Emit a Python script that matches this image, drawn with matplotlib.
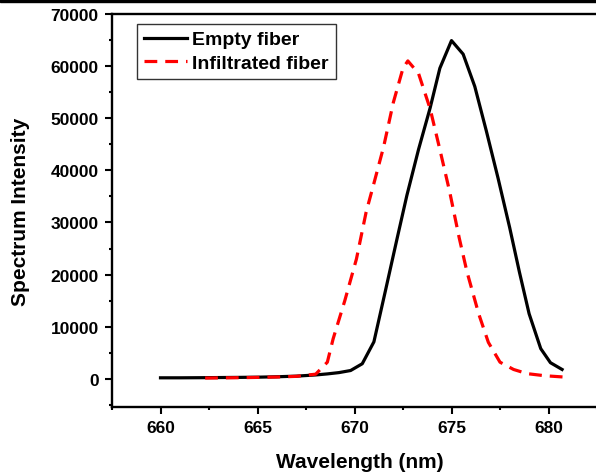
import matplotlib
matplotlib.use("Agg")
import matplotlib.pyplot as plt
from matplotlib.ticker import MultipleLocator
from matplotlib.patches import Rectangle

plt.rcParams['font.family'] = ['Liberation Sans', 'DejaVu Sans']
plt.rcParams['font.weight'] = 'bold'

# Empty fiber
empty_x = [660.0, 661.0, 662.0, 663.0, 664.0, 665.0, 666.0, 667.0, 668.0, 668.6,
           669.2, 669.8, 670.4, 671.0, 671.6, 672.2, 672.7, 673.3, 673.9, 674.4,
           675.0, 675.6, 676.2, 676.8, 677.4, 678.0, 678.5, 679.0, 679.6, 680.1, 680.7]
empty_y = [200, 200, 220, 250, 280, 320, 400, 520, 750, 950,
           1200, 1600, 2900, 7100, 17000, 27000, 35200, 44000, 52000, 59600,
           64900, 62300, 56100, 47500, 38500, 29000, 20500, 12500, 5800, 3100, 1800]

# Infiltrated fiber
infil_x = [662.3, 663.0, 664.0, 665.0, 666.0, 667.0, 668.0, 668.6, 668.9, 669.5,
           670.1, 670.6, 671.0, 671.5, 672.0, 672.5, 672.75, 673.3, 673.9, 674.4,
           674.9, 675.4, 675.8, 676.4, 676.9, 677.5, 678.2, 678.9, 679.8, 680.8]
infil_y = [150, 180, 220, 280, 350, 480, 900, 3200, 7700, 15000,
           23000, 32000, 37500, 44500, 53000, 59600, 61000, 58600, 51800, 44000,
           36000, 27000, 20500, 12500, 7000, 3200, 1800, 1000, 600, 350]

x_ticks = [660, 665, 670, 675, 680]
y_ticks = [0, 10000, 20000, 30000, 40000, 50000, 60000, 70000]

W, H = 596, 477
fig = plt.figure(figsize=(W / 100, H / 100), dpi=100)
left_px, top_px, bottom_px = 112, 15, 408
x_min, x_max = 657.5, 683.0
px_per_nm = 19.4
width_px = (x_max - x_min) * px_per_nm
ax = fig.add_axes([left_px / W, 1 - bottom_px / H, width_px / W, (bottom_px - top_px) / H])

ax.plot(empty_x, empty_y, color='black', lw=2.3, label='Empty fiber')
ax.plot(infil_x, infil_y, color='red', lw=2.3, linestyle=(0, (4, 2.5)), label='Infiltrated fiber')

ax.set_xlim(x_min, x_max)
ax.set_ylim(-5400, 70000)
ax.set_xticks(x_ticks)
ax.set_yticks(y_ticks)
ax.xaxis.set_minor_locator(MultipleLocator(2.5))
ax.yaxis.set_minor_locator(MultipleLocator(5000))
ax.tick_params(which='major', direction='out', length=5, width=1.5, labelsize=12.5, pad=4.5)
ax.tick_params(which='minor', direction='out', length=2.5, width=1.5)
for lab in ax.get_xticklabels() + ax.get_yticklabels():
    lab.set_fontweight('bold')
for s in ax.spines.values():
    s.set_linewidth(1.7)

ax.set_xlabel('Wavelength (nm)', fontsize=15, fontweight='bold', labelpad=12)
ax.set_ylabel('Spectrum Intensity', fontsize=15, fontweight='bold', labelpad=15)

leg = ax.legend(loc='upper left', bbox_to_anchor=(25 / width_px, 1 - 10 / (bottom_px - top_px)),
                borderaxespad=0, prop={'weight': 'bold', 'size': 14},
                handlelength=2.2, handletextpad=0.3, labelspacing=0.3, borderpad=0.35,
                fancybox=False, framealpha=1, edgecolor='#333333')
leg.get_frame().set_linewidth(1.0)

fig.patches.append(Rectangle((0, 1 - 2.5 / H), 1, 2.5 / H, transform=fig.transFigure,
                             color='black', zorder=10))

fig.savefig('out.png', dpi=100)
